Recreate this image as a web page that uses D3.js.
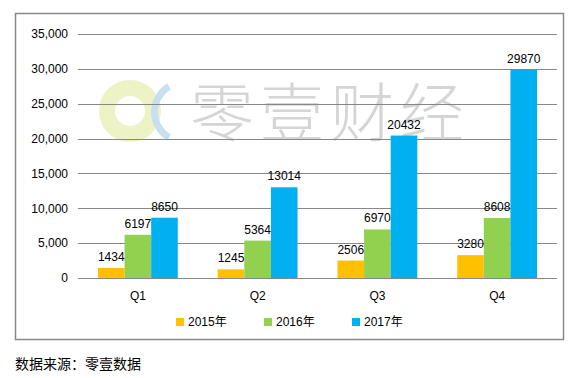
<!DOCTYPE html>
<html>
<head>
<meta charset="utf-8">
<script src="https://cdn.jsdelivr.net/npm/d3@7"></script>
<style>
  body { margin: 0; background: #fff; }
  text { font-family: "Liberation Sans", "Noto Sans CJK SC", sans-serif; }
</style>
</head>
<body>
<div id="chart"></div>
<script>
// data
const quarters = ["Q1", "Q2", "Q3", "Q4"];
const years = ["2015年", "2016年", "2017年"];
const v2015 = [1434, 1245, 2506, 3280];
const v2016 = [6197, 5364, 6970, 8608];
const v2017 = [8650, 13014, 20432, 29870];
const yTicks = [0, 5000, 10000, 15000, 20000, 25000, 30000, 35000];
const colors = ["#ffc000", "#92d050", "#00b0f0"];

const W = 579, H = 378;
const margin = {top: 34, right: 22, bottom: 100, left: 78};
const width = W - margin.left - margin.right,
      height = H - margin.top - margin.bottom;

const svg = d3.select("#chart").append("svg")
    .attr("width", W)
    .attr("height", H);

// outer frame
svg.append("rect")
    .attr("x", 15.5).attr("y", 13.5)
    .attr("width", 548).attr("height", 326)
    .attr("fill", "none")
    .attr("stroke", "#888").attr("stroke-width", 1.5);

// watermark
const wm = svg.append("g");
wm.append("circle")
    .attr("cx", 130).attr("cy", 111).attr("r", 23)
    .attr("fill", "none").attr("stroke", "#eef3c6").attr("stroke-width", 16);
wm.append("path")
    .attr("d", d3.arc()({innerRadius: 26, outerRadius: 33, startAngle: -Math.PI * 0.83, endAngle: -Math.PI * 0.17}))
    .attr("transform", "translate(184,112)")
    .attr("fill", "#c8dff0");
wm.append("text")
    .attr("x", 190).attr("y", 136)
    .style("font-family", "'Noto Sans CJK SC'")
    .style("font-size", "64px")
    .style("font-weight", 300)
    .attr("letter-spacing", 6)
    .attr("fill", "#d4d6d6")
    .text("零壹财经");

const g = svg.append("g")
    .attr("transform", "translate(" + margin.left + "," + margin.top + ")");

const x0 = d3.scaleBand().domain(quarters).range([0, width]).paddingInner(0).paddingOuter(0);
const x1 = d3.scaleBand().domain(years).range([0, x0.bandwidth()]).paddingInner(0).paddingOuter(0.75);
const y = d3.scaleLinear().domain([0, 35000]).range([height, 0]);

// gridlines
g.append("g")
  .selectAll("line")
  .data(yTicks)
  .enter().append("line")
    .attr("x1", 0).attr("x2", width)
    .attr("y1", d => Math.round(y(d)) + 0.5)
    .attr("y2", d => Math.round(y(d)) + 0.5)
    .attr("stroke", "#878787");

// y axis labels
const yAxis = g.append("g")
    .call(d3.axisLeft(y).tickValues(yTicks).tickSize(0).tickPadding(10).tickFormat(d3.format(",")));
yAxis.select(".domain").remove();
yAxis.selectAll("text").style("font-size", "12px").attr("fill", "#000");

// x axis labels
const xAxis = g.append("g")
    .attr("transform", "translate(0," + height + ")")
    .call(d3.axisBottom(x0).tickSize(0).tickPadding(13));
xAxis.select(".domain").remove();
xAxis.selectAll("text").style("font-size", "12px").attr("fill", "#000");

const rows = quarters.map((q, i) => ({q: q, vals: [v2015[i], v2016[i], v2017[i]]}));

const groups = g.selectAll(".grp")
  .data(rows)
  .enter().append("g")
    .attr("class", "grp")
    .attr("transform", d => "translate(" + x0(d.q) + ",0)");

groups.selectAll("rect")
  .data(d => d.vals.map((v, j) => ({key: years[j], v: v, j: j})))
  .enter().append("rect")
    .attr("x", d => x1(d.key))
    .attr("y", d => y(d.v))
    .attr("width", x1.bandwidth())
    .attr("height", d => height - y(d.v))
    .attr("fill", d => colors[d.j]);

groups.selectAll(".lbl")
  .data(d => d.vals.map((v, j) => ({key: years[j], v: v, j: j})))
  .enter().append("text")
    .attr("class", "lbl")
    .attr("x", d => x1(d.key) + x1.bandwidth() / 2)
    .attr("y", d => y(d.v) - 7)
    .attr("text-anchor", "middle")
    .style("font-size", "12px")
    .attr("fill", "#000")
    .text(d => d.v);

// legend
const legend = svg.append("g").attr("transform", "translate(176,318)");
const items = legend.selectAll("g")
  .data(years)
  .enter().append("g")
    .attr("transform", (d, i) => "translate(" + (i * 88) + ",0)");
items.append("rect")
    .attr("width", 8).attr("height", 8)
    .attr("fill", (d, i) => colors[i]);
items.append("text")
    .attr("x", 12).attr("y", 8)
    .style("font-size", "12px")
    .attr("fill", "#000")
    .text(d => d);

// source note
svg.append("text")
    .attr("x", 15).attr("y", 369)
    .style("font-family", "'Noto Sans CJK SC'")
    .style("font-size", "14px")
    .attr("fill", "#000")
    .text("数据来源：零壹数据");
</script>
</body>
</html>
